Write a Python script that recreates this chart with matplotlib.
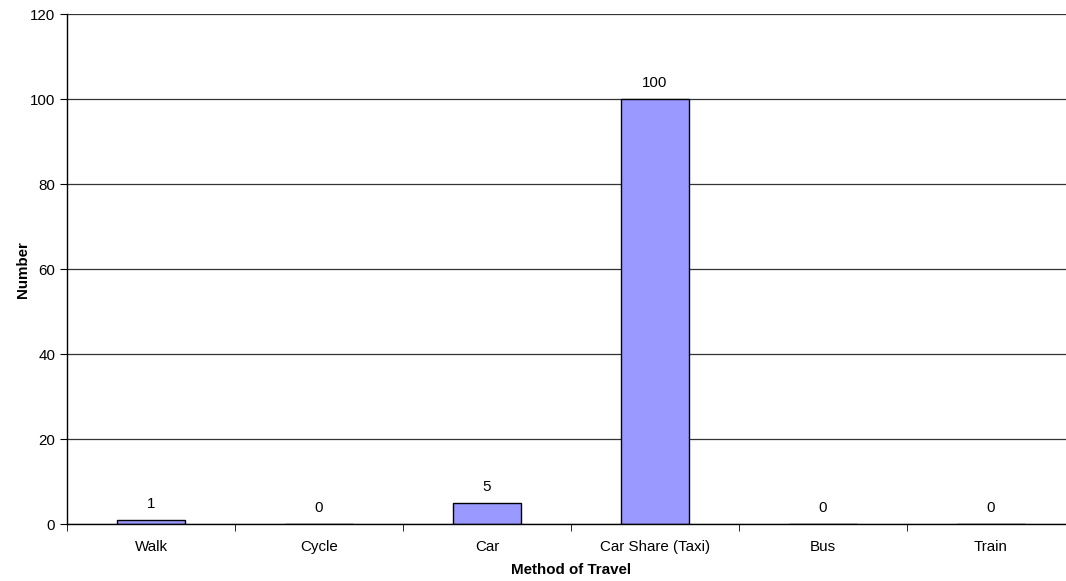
import numpy as np
import matplotlib.pyplot as plt

plt.rcParams['font.family'] = ['Liberation Sans', 'DejaVu Sans']

# categories and counts
methods = ['Walk', 'Cycle', 'Car', 'Car Share (Taxi)', 'Bus', 'Train']
counts = [1, 0, 5, 100, 0, 0]
y_ticks = [0, 20, 40, 60, 80, 100, 120]

fig = plt.figure(figsize=(10.66, 5.81), dpi=100)
# plot area runs past the right edge of the image, as in the original
ax = fig.add_axes([0.0629, 0.0976, 0.9456, 0.8778])

x = np.arange(len(methods))
ax.set_axisbelow(True)
ax.yaxis.grid(True, color='#333333', linewidth=0.9)
bars = ax.bar(x, counts, width=0.405, color='#9999FF', edgecolor='black', linewidth=1.0)

# value labels above each bar
for xi, v in zip(x, counts):
    ax.text(xi, v + 3.8, str(v), ha='center', va='center', fontsize=10.9)

ax.set_xlim(-0.5, len(methods) - 0.5)
ax.set_ylim(0, 120)
ax.set_yticks(y_ticks)
ax.set_xticks(x)
ax.set_xticklabels(methods, fontsize=10.9)
ax.tick_params(axis='x', length=0, pad=11)
ax.set_xticks(np.arange(-0.5, len(methods) + 0.5, 1), minor=True)
ax.tick_params(axis='x', which='minor', length=5, direction='out')
ax.tick_params(axis='y', length=5, direction='out', labelsize=10.9)

for s in ['top', 'right']:
    ax.spines[s].set_visible(False)
ax.spines['left'].set_linewidth(1.0)
ax.spines['bottom'].set_linewidth(1.0)

ax.set_xlabel('Method of Travel', fontweight='bold', fontsize=10.9, labelpad=7)
ax.set_ylabel('Number', fontweight='bold', fontsize=10.9, labelpad=0)

fig.savefig('out.png', dpi=100)
